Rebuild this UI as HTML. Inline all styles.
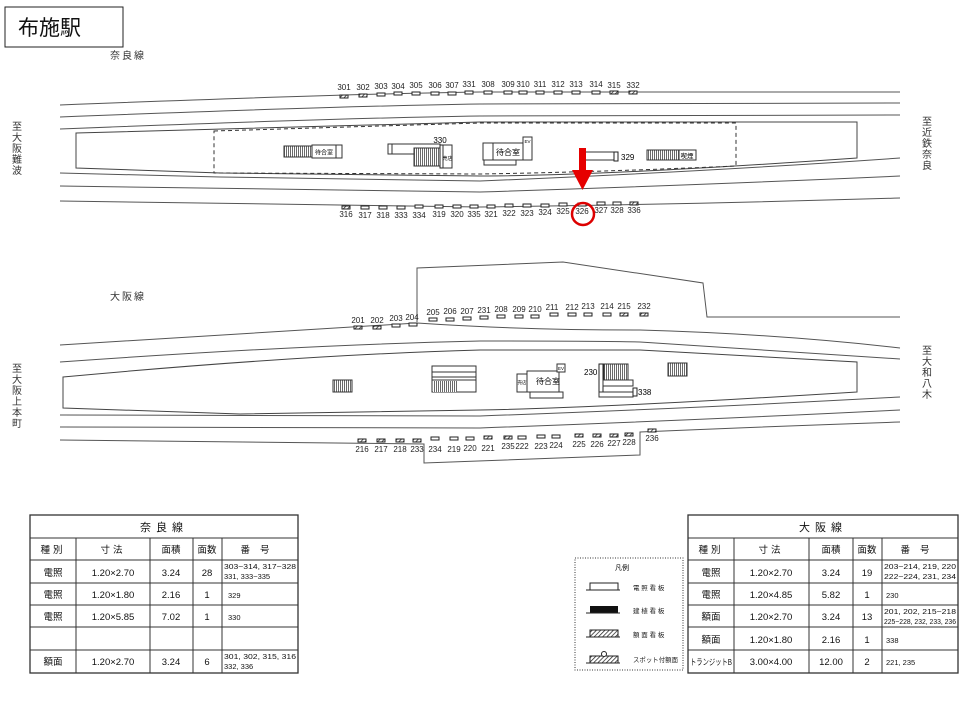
<!DOCTYPE html>
<html><head><meta charset="utf-8"><style>
body{margin:0;background:#fff;}
svg{display:block;font-family:"Liberation Sans","Noto Sans CJK JP",sans-serif;}
.n{font-size:8px;fill:#222;text-anchor:middle;}
.t{fill:none;stroke:#555;stroke-width:1;}
.s{fill:#fff;stroke:#222;stroke-width:1;}
.h{fill:url(#hp);stroke:#222;stroke-width:1;}
.tb{font-size:9.5px;fill:#111;text-anchor:middle;}
.v{font-size:10px;fill:#333;text-anchor:middle;}
</style></head><body>
<svg width="960" height="720" viewBox="0 0 960 720" xmlns="http://www.w3.org/2000/svg">
<defs>
<pattern id="hp" width="3" height="3" patternUnits="userSpaceOnUse" patternTransform="rotate(45)"><rect width="3" height="3" fill="#fff"/><line x1="0" y1="0" x2="0" y2="3" stroke="#222" stroke-width="1.5"/></pattern>
<pattern id="st" width="2" height="4" patternUnits="userSpaceOnUse"><rect width="2" height="4" fill="#fff"/><line x1="0.5" y1="0" x2="0.5" y2="4" stroke="#444" stroke-width="0.8"/></pattern>
</defs>
<rect x="5" y="7" width="118" height="40" fill="#fff" stroke="#222"/>
<text x="18" y="35" font-size="21" fill="#111">布施駅</text>
<text x="110" y="59" font-size="10" fill="#333" letter-spacing="2">奈良線</text>

<path class="t" d="M60,105 Q340,94 480,92 L900,92"/>
<path class="t" d="M60,117 Q340,106 480,104 L900,103"/>
<path class="t" d="M60,129 Q340,118 480,116 L900,115"/>
<path class="t" d="M60,173 L220,177 L480,181 Q700,172 900,158"/>
<path class="t" d="M60,186 L480,192 Q700,185 900,176"/>
<path class="t" d="M60,201 L480,207 Q700,204 900,198"/>
<path fill="#fff" stroke="#444" d="M76,133 L480,122 L857,122 L857,158 Q600,176 480,176 L220,173 L76,168 Z"/>
<path fill="none" stroke="#333" stroke-dasharray="4,3" d="M214,131 L480,123 L736,123 L736,166 Q600,172 480,174 L214,173 Z"/>

<rect x="284" y="146" width="28" height="11" fill="url(#st)" stroke="#333"/>
<rect x="312" y="145" width="24" height="13" fill="#fff" stroke="#333"/><text x="324" y="154.5" font-size="6" text-anchor="middle">待合室</text>
<rect x="336" y="145" width="6" height="13" fill="#fff" stroke="#333"/>
<path fill="none" stroke="#333" d="M388,144 H440 V154 H388 Z M392,144 V154"/>
<rect x="414" y="148" width="26" height="18" fill="url(#st)" stroke="#333"/>
<rect x="440" y="145" width="3" height="23" fill="#fff" stroke="#222"/>
<rect x="443" y="145" width="9" height="23" fill="#fff" stroke="#333"/><text x="447.5" y="160" font-size="5" text-anchor="middle">売店</text>
<text x="440" y="143" font-size="8" text-anchor="middle">330</text>
<rect x="483" y="143" width="40" height="17" fill="#fff" stroke="#333"/><line x1="493" y1="143" x2="493" y2="160" stroke="#333"/>
<text x="508" y="155" font-size="8" text-anchor="middle">待合室</text>
<rect x="523" y="137" width="9" height="23" fill="#fff" stroke="#333"/><text x="527.5" y="143" font-size="4.5" text-anchor="middle">EV</text>
<rect x="484" y="160" width="32" height="5" fill="#fff" stroke="#333"/>
<rect x="585" y="152" width="33" height="8" fill="#fff" stroke="#333"/><rect x="614" y="152" width="4" height="9" fill="#fff" stroke="#222"/>
<text x="621" y="160" font-size="8">329</text>
<rect x="647" y="150" width="32" height="10" fill="url(#st)" stroke="#333"/>
<rect x="679" y="150" width="17" height="10" fill="#fff" stroke="#333"/><text x="687" y="158" font-size="6.5" text-anchor="middle">喫煙</text>

<g class="n">
<text x="344" y="90">301</text><text x="363" y="90">302</text><text x="381" y="89">303</text><text x="398" y="89">304</text><text x="416" y="88">305</text><text x="435" y="88">306</text><text x="452" y="88">307</text><text x="469" y="87">331</text><text x="488" y="87">308</text><text x="508" y="87">309</text><text x="523" y="87">310</text><text x="540" y="87">311</text><text x="558" y="87">312</text><text x="576" y="87">313</text><text x="596" y="87">314</text><text x="614" y="88">315</text><text x="633" y="88">332</text>
</g>
<rect class="h" x="340" y="95" width="8" height="3"/><rect class="h" x="359" y="94" width="8" height="3"/>
<rect class="s" x="377" y="93" width="8" height="3"/><rect class="s" x="394" y="92" width="8" height="3"/><rect class="s" x="412" y="92" width="8" height="3"/><rect class="s" x="431" y="92" width="8" height="3"/><rect class="s" x="448" y="92" width="8" height="3"/><rect class="s" x="465" y="91" width="8" height="3"/><rect class="s" x="484" y="91" width="8" height="3"/><rect class="s" x="504" y="91" width="8" height="3"/><rect class="s" x="519" y="91" width="8" height="3"/><rect class="s" x="536" y="91" width="8" height="3"/><rect class="s" x="554" y="91" width="8" height="3"/><rect class="s" x="572" y="91" width="8" height="3"/><rect class="s" x="592" y="91" width="8" height="3"/>
<rect class="h" x="610" y="91" width="8" height="3"/><rect class="h" x="629" y="91" width="8" height="3"/>
<g class="n">
<text x="346" y="217">316</text><text x="365" y="218">317</text><text x="383" y="218">318</text><text x="401" y="218">333</text><text x="419" y="218">334</text><text x="439" y="217">319</text><text x="457" y="217">320</text><text x="474" y="217">335</text><text x="491" y="217">321</text><text x="509" y="216">322</text><text x="527" y="216">323</text><text x="545" y="215">324</text><text x="563" y="214">325</text><text x="582" y="214">326</text><text x="601" y="213">327</text><text x="617" y="213">328</text><text x="634" y="213">336</text>
</g>
<rect class="h" x="342" y="206" width="8" height="3"/>
<rect class="s" x="361" y="206" width="8" height="3"/><rect class="s" x="379" y="206" width="8" height="3"/><rect class="s" x="397" y="206" width="8" height="3"/><rect class="s" x="415" y="205" width="8" height="3"/><rect class="s" x="435" y="205" width="8" height="3"/><rect class="s" x="453" y="205" width="8" height="3"/><rect class="s" x="470" y="205" width="8" height="3"/><rect class="s" x="487" y="205" width="8" height="3"/><rect class="s" x="505" y="204" width="8" height="3"/><rect class="s" x="523" y="204" width="8" height="3"/><rect class="s" x="541" y="204" width="8" height="3"/><rect class="s" x="559" y="203" width="8" height="3"/><rect class="s" x="578" y="203" width="8" height="3"/><rect class="s" x="597" y="202" width="8" height="3"/><rect class="s" x="613" y="202" width="8" height="3"/>
<rect class="h" x="630" y="202" width="8" height="3"/>
<rect x="579" y="148" width="7" height="24" fill="#e60000"/>
<path d="M572,170 L593,170 L582.5,190 Z" fill="#e60000"/>
<circle cx="583" cy="214" r="11" fill="none" stroke="#d00" stroke-width="2.5"/>

<text class="v" x="17" y="130">至</text><text class="v" x="17" y="141">大</text><text class="v" x="17" y="152">阪</text><text class="v" x="17" y="163">難</text><text class="v" x="17" y="174">波</text>
<text class="v" x="927" y="125">至</text><text class="v" x="927" y="136">近</text><text class="v" x="927" y="147">鉄</text><text class="v" x="927" y="158">奈</text><text class="v" x="927" y="169">良</text>

<text x="110" y="300" font-size="10" fill="#333" letter-spacing="2">大阪線</text>
<path class="t" d="M417,322 L417,268 L563,262 L703,283 L707,317 L900,317"/>
<path class="t" d="M60,345 L417,323 Q520,330 640,330 Q780,334 900,348"/>
<path class="t" d="M60,362 Q300,345 480,341 Q600,341 640,342 L900,359"/>
<path fill="#fff" stroke="#444" d="M63,377 Q300,355 480,350 L640,350 L857,362 L857,392 Q600,408 480,410 L240,414 L63,408 Z"/>
<path class="t" d="M60,415 L480,416 Q700,408 900,397"/>
<path class="t" d="M60,427 L480,428 Q700,420 900,410"/>
<path class="t" d="M60,440 L424,444 L424,463 L640,455 L640,432 Q780,426 900,422"/>

<rect x="333" y="380" width="19" height="12" fill="url(#st)" stroke="#333"/>
<path fill="none" stroke="#333" d="M432,366 H476 V392 H432 Z M432,372 H476 M432,377 H476 M432,380 H476"/>
<rect x="433" y="381" width="24" height="11" fill="url(#st)" stroke="none"/>
<rect x="517" y="374" width="10" height="18" fill="#fff" stroke="#333"/><text x="522" y="384" font-size="4.5" text-anchor="middle">売店</text>
<rect x="527" y="371" width="32" height="21" fill="#fff" stroke="#333"/><text x="548" y="384" font-size="8" text-anchor="middle">待合室</text>
<rect x="557" y="364" width="8" height="8" fill="#fff" stroke="#333"/><text x="561" y="370" font-size="4.5" text-anchor="middle">EV</text>
<rect x="530" y="392" width="33" height="6" fill="#fff" stroke="#333"/>
<text x="584" y="375" font-size="8">230</text>
<rect x="599" y="364" width="4" height="30" fill="#fff" stroke="#222"/>
<rect x="604" y="364" width="24" height="16" fill="url(#st)" stroke="#333"/>
<rect x="603" y="380" width="30" height="6" fill="#fff" stroke="#333"/>
<rect x="599" y="392" width="34" height="5" fill="#fff" stroke="#333"/>
<rect x="633" y="388" width="4" height="8" fill="#fff" stroke="#222"/>
<text x="638" y="395" font-size="8">338</text>
<rect x="668" y="363" width="19" height="13" fill="url(#st)" stroke="#333"/>

<g class="n">
<text x="358" y="323">201</text><text x="377" y="323">202</text><text x="396" y="321">203</text><text x="412" y="320">204</text><text x="433" y="315">205</text><text x="450" y="314">206</text><text x="467" y="314">207</text><text x="484" y="313">231</text><text x="501" y="312">208</text><text x="519" y="312">209</text><text x="535" y="312">210</text><text x="552" y="310">211</text><text x="572" y="310">212</text><text x="588" y="309">213</text><text x="607" y="309">214</text><text x="624" y="309">215</text><text x="644" y="309">232</text>
</g>
<rect class="h" x="354" y="326" width="8" height="3"/><rect class="h" x="373" y="326" width="8" height="3"/>
<rect class="s" x="392" y="324" width="8" height="3"/><rect class="s" x="409" y="323" width="8" height="3"/><rect class="s" x="429" y="318" width="8" height="3"/><rect class="s" x="446" y="318" width="8" height="3"/><rect class="s" x="463" y="317" width="8" height="3"/><rect class="s" x="480" y="316" width="8" height="3"/><rect class="s" x="497" y="315" width="8" height="3"/><rect class="s" x="515" y="315" width="8" height="3"/><rect class="s" x="531" y="315" width="8" height="3"/><rect class="s" x="550" y="313" width="8" height="3"/><rect class="s" x="568" y="313" width="8" height="3"/><rect class="s" x="584" y="313" width="8" height="3"/><rect class="s" x="603" y="313" width="8" height="3"/>
<rect class="h" x="620" y="313" width="8" height="3"/><rect class="h" x="640" y="313" width="8" height="3"/>

<g class="n">
<text x="362" y="452">216</text><text x="381" y="452">217</text><text x="400" y="452">218</text><text x="417" y="452">233</text><text x="435" y="452">234</text><text x="454" y="452">219</text><text x="470" y="451">220</text><text x="488" y="451">221</text><text x="508" y="449">235</text><text x="522" y="449">222</text><text x="541" y="449">223</text><text x="556" y="448">224</text><text x="579" y="447">225</text><text x="597" y="447">226</text><text x="614" y="446">227</text><text x="629" y="445">228</text><text x="652" y="441">236</text>
</g>
<rect class="h" x="358" y="439" width="8" height="3"/><rect class="h" x="377" y="439" width="8" height="3"/><rect class="h" x="396" y="439" width="8" height="3"/><rect class="h" x="413" y="439" width="8" height="3"/>
<rect class="s" x="431" y="437" width="8" height="3"/><rect class="s" x="450" y="437" width="8" height="3"/><rect class="s" x="466" y="437" width="8" height="3"/>
<rect class="h" x="484" y="436" width="8" height="3"/><rect class="h" x="504" y="436" width="8" height="3"/>
<rect class="s" x="518" y="436" width="8" height="3"/><rect class="s" x="537" y="435" width="8" height="3"/><rect class="s" x="552" y="435" width="8" height="3"/>
<rect class="h" x="575" y="434" width="8" height="3"/><rect class="h" x="593" y="434" width="8" height="3"/><rect class="h" x="610" y="434" width="8" height="3"/><rect class="h" x="625" y="433" width="8" height="3"/><rect class="h" x="648" y="429" width="8" height="3"/>

<text class="v" x="17" y="372">至</text><text class="v" x="17" y="383">大</text><text class="v" x="17" y="394">阪</text><text class="v" x="17" y="405">上</text><text class="v" x="17" y="416">本</text><text class="v" x="17" y="427">町</text>
<text class="v" x="927" y="354">至</text><text class="v" x="927" y="365">大</text><text class="v" x="927" y="376">和</text><text class="v" x="927" y="387">八</text><text class="v" x="927" y="398">木</text>

<g fill="none" stroke="#333">
<rect x="30" y="515" width="268" height="158" stroke-width="1.3"/>
<path d="M30,538H298 M30,560H298 M30,583H298 M30,605H298 M30,627H298 M30,650H298 M76,538V673 M150,538V673 M193,538V673 M222,538V673"/>
</g>
<g class="tb">
<text x="164" y="531" font-size="11" letter-spacing="5">奈良線</text>
<text x="53" y="553" letter-spacing="3">種別</text><text x="113" y="553" letter-spacing="3">寸法</text><text x="171" y="553">面積</text><text x="207" y="553">面数</text><text x="260" y="553" letter-spacing="10">番号</text>
<text x="53" y="576">電照</text><text x="113" y="576">1.20×2.70</text><text x="171" y="576">3.24</text><text x="207" y="576">28</text>
<text x="53" y="598">電照</text><text x="113" y="598">1.20×1.80</text><text x="171" y="598">2.16</text><text x="207" y="598">1</text>
<text x="53" y="620">電照</text><text x="113" y="620">1.20×5.85</text><text x="171" y="620">7.02</text><text x="207" y="620">1</text>
<text x="53" y="665">額面</text><text x="113" y="665">1.20×2.70</text><text x="171" y="665">3.24</text><text x="207" y="665">6</text>
</g>
<g font-size="7.5" fill="#111">
<text x="224" y="569" textLength="72" lengthAdjust="spacingAndGlyphs">303~314, 317~328</text><text x="224" y="579">331, 333~335</text>
<text x="228" y="598">329</text><text x="228" y="620">330</text>
<text x="224" y="659" textLength="72" lengthAdjust="spacingAndGlyphs">301, 302, 315, 316</text><text x="224" y="669">332, 336</text>
</g>

<rect x="575" y="558" width="108" height="112" fill="none" stroke="#333" stroke-dasharray="1,1.5"/>
<text x="622" y="570" font-size="7" text-anchor="middle">凡例</text>
<path fill="none" stroke="#222" d="M586,590H620 M590,590V583H618V590"/>
<rect x="590" y="606" width="28" height="7" fill="#111"/><path stroke="#222" d="M586,613H620"/>
<rect x="590" y="630" width="28" height="7" fill="url(#hp)" stroke="#222"/><path stroke="#222" d="M586,637H620"/>
<rect x="590" y="656" width="28" height="7" fill="url(#hp)" stroke="#222"/><path stroke="#222" d="M586,663H620"/><circle cx="604" cy="654" r="2.5" fill="#fff" stroke="#222"/>
<g font-size="6.5" fill="#222"><text x="633" y="590">電 照 看 板</text><text x="633" y="613">建 植 看 板</text><text x="633" y="637">額 面 看 板</text><text x="633" y="662" textLength="45" lengthAdjust="spacingAndGlyphs">スポット付額面</text></g>

<g fill="none" stroke="#333">
<rect x="688" y="515" width="270" height="158" stroke-width="1.3"/>
<path d="M688,538H958 M688,560H958 M688,583H958 M688,605H958 M688,627H958 M688,650H958 M734,538V673 M809,538V673 M853,538V673 M882,538V673"/>
</g>
<g class="tb">
<text x="823" y="531" font-size="11" letter-spacing="5">大阪線</text>
<text x="711" y="553" letter-spacing="3">種別</text><text x="771" y="553" letter-spacing="3">寸法</text><text x="831" y="553">面積</text><text x="867" y="553">面数</text><text x="920" y="553" letter-spacing="10">番号</text>
<text x="711" y="576">電照</text><text x="771" y="576">1.20×2.70</text><text x="831" y="576">3.24</text><text x="867" y="576">19</text>
<text x="711" y="598">電照</text><text x="771" y="598">1.20×4.85</text><text x="831" y="598">5.82</text><text x="867" y="598">1</text>
<text x="711" y="620">額面</text><text x="771" y="620">1.20×2.70</text><text x="831" y="620">3.24</text><text x="867" y="620">13</text>
<text x="711" y="643">額面</text><text x="771" y="643">1.20×1.80</text><text x="831" y="643">2.16</text><text x="867" y="643">1</text>
<text x="690" y="665" font-size="8.5" text-anchor="start" textLength="42" lengthAdjust="spacingAndGlyphs">トランジットB</text><text x="771" y="665">3.00×4.00</text><text x="831" y="665">12.00</text><text x="867" y="665">2</text>
</g>
<g font-size="7.5" fill="#111">
<text x="884" y="569" textLength="72" lengthAdjust="spacingAndGlyphs">203~214, 219, 220</text><text x="884" y="579" textLength="72" lengthAdjust="spacingAndGlyphs">222~224, 231, 234</text>
<text x="886" y="598">230</text>
<text x="884" y="614" textLength="72" lengthAdjust="spacingAndGlyphs">201, 202, 215~218</text><text x="884" y="624" textLength="72" lengthAdjust="spacingAndGlyphs">225~228, 232, 233, 236</text>
<text x="886" y="643">338</text><text x="886" y="665">221, 235</text>
</g>
</svg>
</body></html>
